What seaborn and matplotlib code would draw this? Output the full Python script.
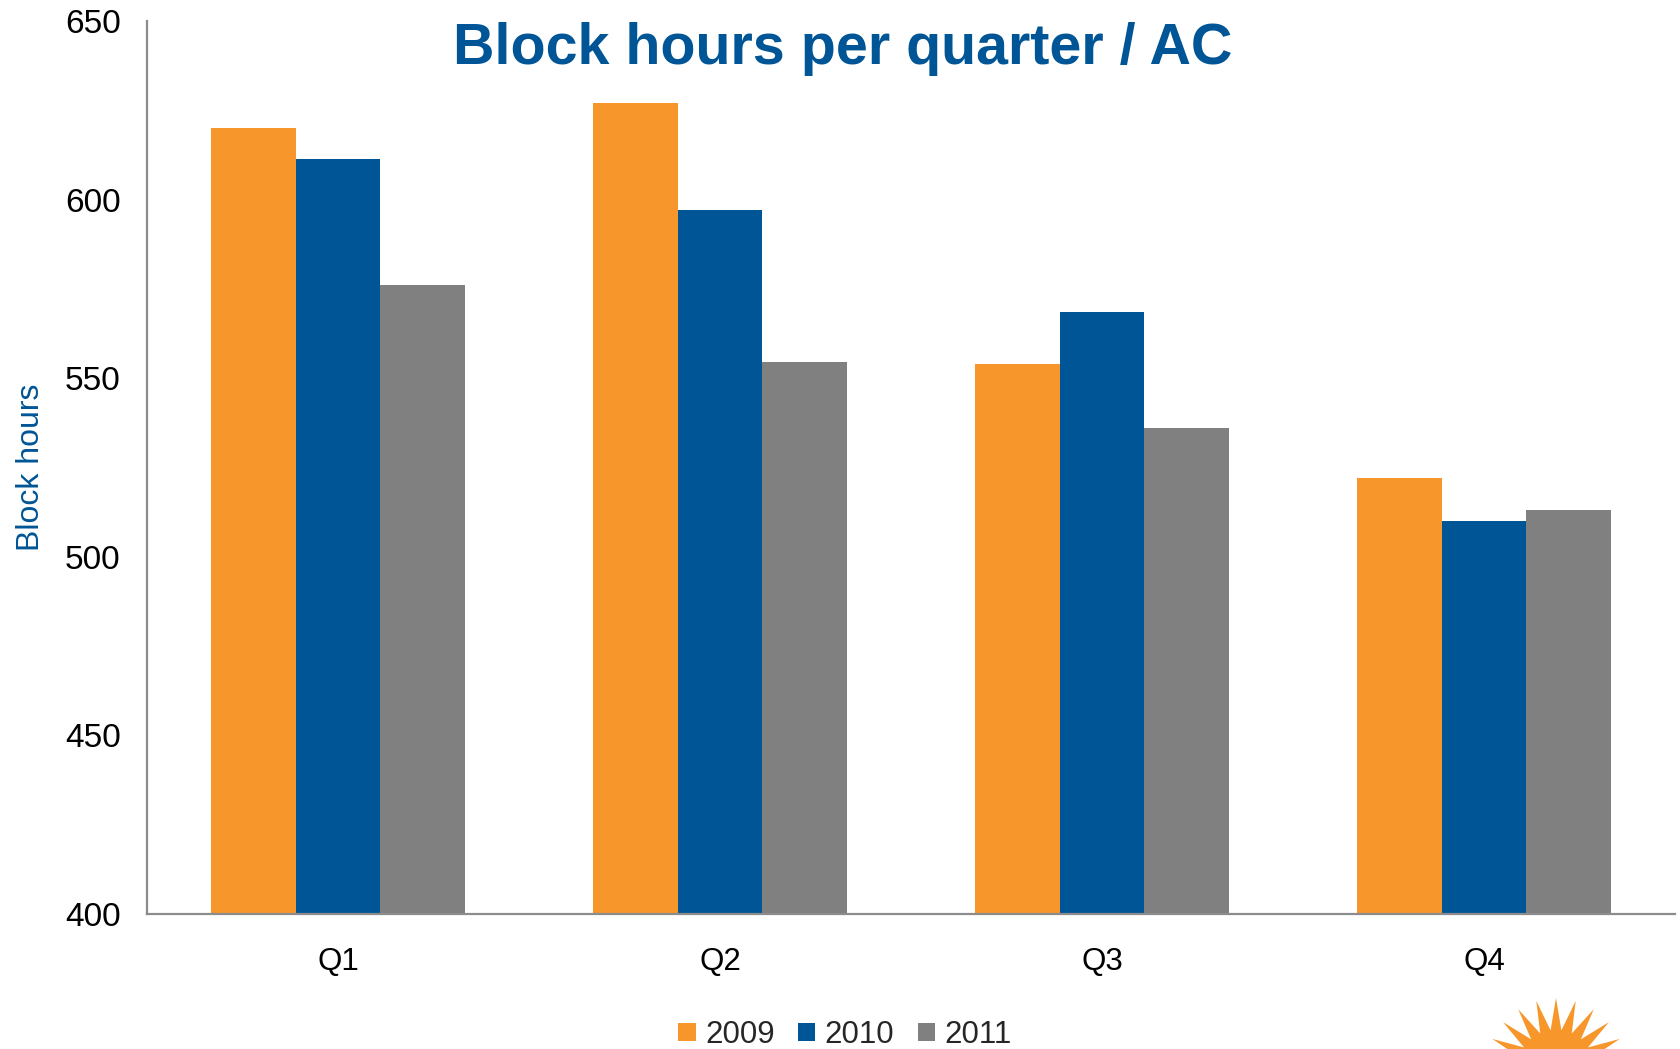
import numpy as np
import pandas as pd
import matplotlib
matplotlib.use("Agg")
import matplotlib.pyplot as plt
import seaborn as sns
from matplotlib.patches import Polygon

# ---- data ----
quarters = ["Q1", "Q2", "Q3", "Q4"]
years = ["2009", "2010", "2011"]
values_2009 = [620, 627, 554, 522]
values_2010 = [611.5, 597, 568.5, 510]
values_2011 = [576, 554.5, 536, 513]
y_ticks = [400, 450, 500, 550, 600, 650]

colors = ["#F7962A", "#005596", "#808080"]
title_color = "#005596"
axis_color = "#8C8C8C"

df = pd.DataFrame({
    "Quarter": quarters * 3,
    "Year": [years[0]] * 4 + [years[1]] * 4 + [years[2]] * 4,
    "Block hours": values_2009 + values_2010 + values_2011,
})

sns.set_style("white")
plt.rcParams["font.family"] = ["Liberation Sans", "DejaVu Sans"]

W, H = 1681, 1049
fig = plt.figure(figsize=(W / 100, H / 100), dpi=100)
ax = fig.add_axes([147 / W, 1 - 914 / H, (1675 - 147) / W, (914 - 21) / H])

sns.barplot(data=df, x="Quarter", y="Block hours", hue="Year",
            palette=colors, width=0.667, gap=0, saturation=1,
            edgecolor="none", linewidth=0, ax=ax)

ax.set_ylim(400, 650)
ax.set_xlim(-0.5, 3.5)
ax.set_yticks(y_ticks)
ax.set_yticklabels([str(t) for t in y_ticks])
ax.set_xlabel("")
ax.set_ylabel("Block hours", fontsize=23, color=title_color)
ax.yaxis.set_label_coords(-0.066, 0.5)

for s in ["top", "right"]:
    ax.spines[s].set_visible(False)
for s in ["left", "bottom"]:
    ax.spines[s].set_color(axis_color)
    ax.spines[s].set_linewidth(1.6)

# x tick marks at category boundaries, labels at centers
ax.set_xticks([0, 1, 2, 3])
ax.set_xticklabels(quarters)
ax.set_xticks([-0.5, 0.5, 1.5, 2.5, 3.5], minor=True)
ax.tick_params(axis="x", which="major", length=0, pad=24, labelsize=22.5, labelcolor="black")
ax.tick_params(axis="x", which="minor", length=7, width=1.6, color=axis_color, direction="out")
ax.tick_params(axis="y", which="major", length=7, width=1.6, color=axis_color,
               direction="out", pad=12, labelsize=24, labelcolor="black")
ax.grid(False)

handles, labels = ax.get_legend_handles_labels()
if ax.get_legend() is not None:
    ax.get_legend().remove()
fig.legend(handles, labels, loc="center", bbox_to_anchor=(845 / W, 1 - 1035 / H),
           ncol=3, frameon=False, fontsize=22.5, handlelength=0.55, handleheight=0.55,
           handletextpad=0.3, columnspacing=0.75, borderaxespad=0)

fig.text(843 / W, 1 - 49 / H, "Block hours per quarter / AC", ha="center", va="center",
         fontsize=41.3, fontweight="bold", color=title_color)

# decorative logo fragment (sun) at bottom right
cx, cy, r_out, r_in = 1556, 1068, 70, 38
n = 22
ang = np.linspace(0, 2 * np.pi, 2 * n, endpoint=False) + np.pi / 2
rad = np.where(np.arange(2 * n) % 2 == 0, r_out, r_in)
pts = np.column_stack([(cx + rad * np.cos(ang)) / W, 1 - (cy - rad * np.sin(ang)) / H])
fig.patches.append(Polygon(pts, closed=True, facecolor="#F7962A", edgecolor="none",
                           transform=fig.transFigure, figure=fig))

fig.savefig("out.png", dpi=100)
